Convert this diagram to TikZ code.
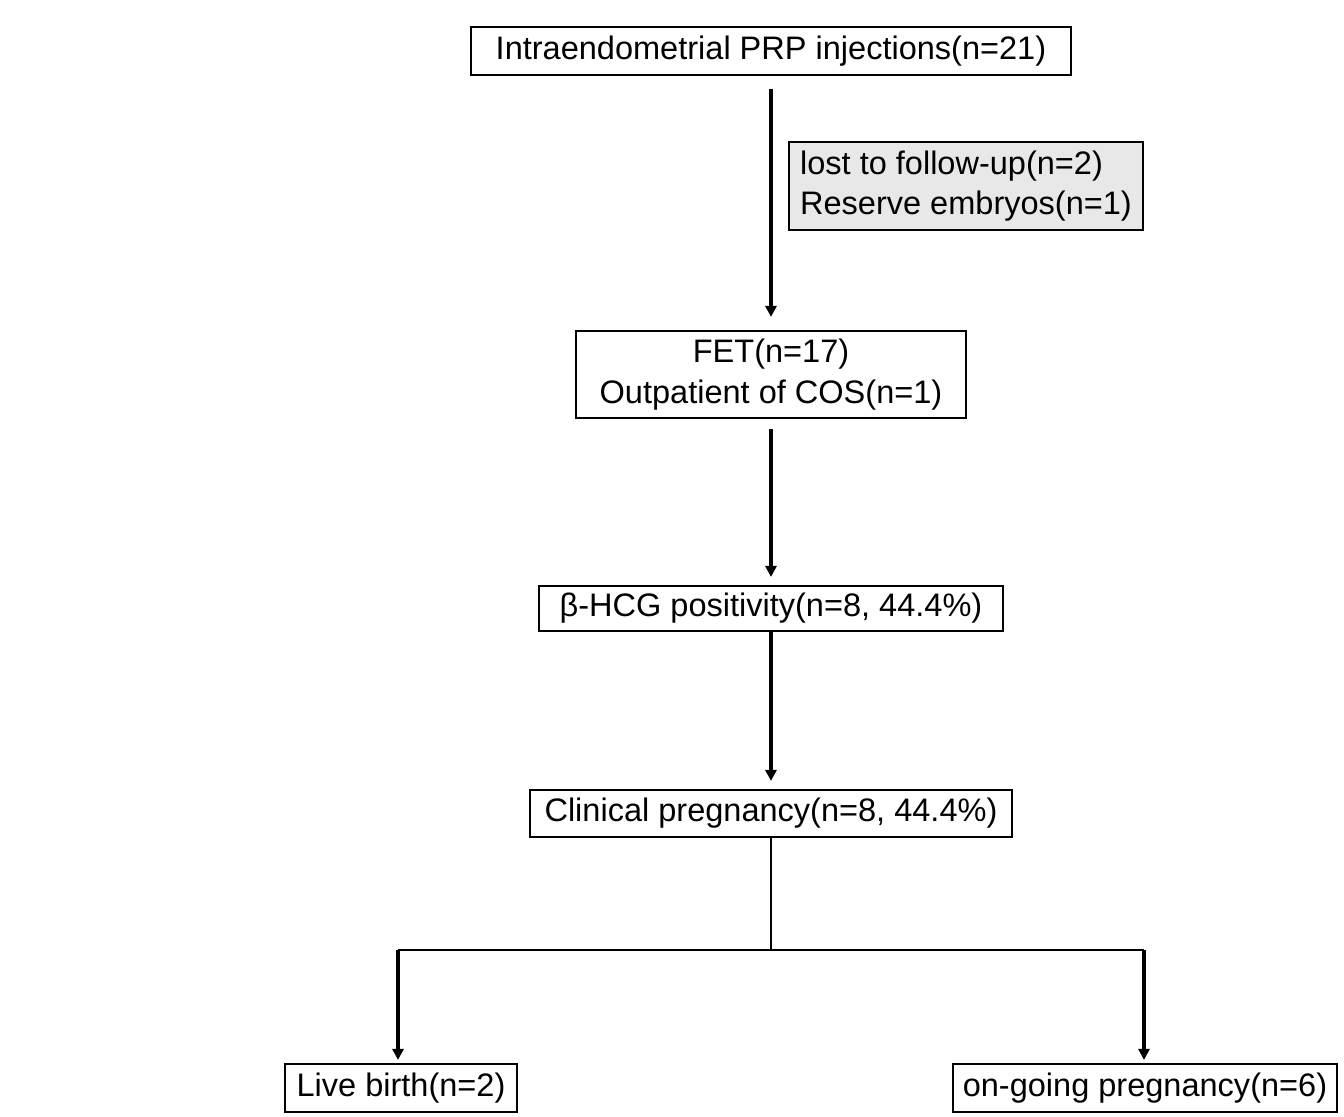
\documentclass[tikz,border=0pt]{standalone}
\usepackage{fontspec}
\setmainfont{Liberation Sans}
\usetikzlibrary{arrows.meta,positioning}
\tikzset{box/.style={draw,line width=0.6pt,align=center,inner sep=0pt,font=\fontsize{9.25}{11.6}\selectfont},
  greybox/.style={box,fill=black!9,align=left},
  arr/.style={-{Triangle[length=1.1mm,width=1.1mm]},line width=1.2pt},
  link/.style={line width=0.6pt}}

\begin{document}
\begin{tikzpicture}[x=0.01cm,y=-0.01cm]
\useasboundingbox (0,0) rectangle (1344,1117);
% boxes
\node[box,minimum width=6cm,minimum height=0.48cm] (prp) at (771,51) {Intraendometrial PRP injections(n=21)};
\node[greybox,minimum width=3.54cm,minimum height=0.88cm] (lost) at (966,186) {lost to follow-up(n=2)\\Reserve embryos(n=1)};
\node[box,minimum width=3.89cm,minimum height=0.87cm] (fet) at (771,374.5) {FET(n=17)\\Outpatient of COS(n=1)};
\node[box,minimum width=4.64cm,minimum height=0.45cm] (hcg) at (771,608.5) {β-HCG positivity(n=8, 44.4\%)};
\node[box,minimum width=4.82cm,minimum height=0.47cm] (clin) at (771,813.5) {Clinical pregnancy(n=8, 44.4\%)};
\node[box,minimum width=2.32cm,minimum height=0.48cm] (live) at (401,1088) {Live birth(n=2)};
\node[box,minimum width=3.84cm,minimum height=0.48cm] (ongo) at (1145,1088) {on-going pregnancy(n=6)};
% connectors
\coordinate (split) at (771,950);
\coordinate (lb) at (398,950);
\coordinate (og) at (1144,950);
\draw[arr,shorten <=0.13cm,shorten >=0.13cm] (prp.south) -- (prp.south |- fet.north);
\draw[arr,shorten <=0.10cm,shorten >=0.08cm] (fet.south) -- (fet.south |- hcg.north);
\draw[arr,shorten >=0.08cm] (hcg.south) -- (clin.north);
\draw[link] (clin.south) -- (split);
\draw[link] (lb) -- (og);
\draw[arr,shorten >=0.03cm] (lb) -- (lb |- live.north);
\draw[arr,shorten >=0.03cm] (og) -- (og |- ongo.north);
\end{tikzpicture}
\end{document}
